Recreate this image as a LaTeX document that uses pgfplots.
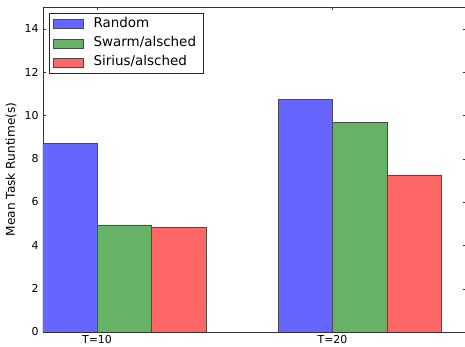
\documentclass[border=0pt]{standalone}
\usepackage{pgfplots}
\pgfplotsset{compat=1.18}
\usepackage{fontspec}
\setmainfont{DejaVu Sans}
\definecolor{cblue}{HTML}{6666FF}
\definecolor{cgreen}{HTML}{66B266}
\definecolor{cred}{HTML}{FF6666}
\begin{document}
\begin{tikzpicture}
\useasboundingbox (-43bp,-15bp) rectangle (422bp,332bp);
\clip (-43bp,-15bp) rectangle (422bp,332bp);
\begin{axis}[
  scale only axis,
  width=423bp, height=325bp,
  xmin=-0.2293, xmax=1.5669,
  ymin=0, ymax=15,
  xtick={0,1}, xticklabels={T=10,T=20},
  ytick={0,2,4,6,8,10,12,14},
  /pgf/number format/assume math mode=true,
  yticklabel style={font=\fontsize{11}{13}\selectfont, xshift=-1bp},
  xticklabel style={font=\fontsize{11}{13}\selectfont},
  ylabel={Mean Task Runtime(s)},
  ylabel style={font=\fontsize{12.2}{15}\selectfont, at={(axis description cs:-0.0757,0.5)}, anchor=center},
  axis line style={black!80},
  major tick length=3bp,
  tick style={black!80},
  legend style={at={(0.0142,0.9815)}, anchor=north west, draw=black!85,
    font=\fontsize{13.5}{16}\selectfont, inner xsep=4bp, inner ysep=4bp,
    nodes={inner sep=0pt, text height=10bp, text depth=3.5bp},
    row sep=5.8bp,
    /tikz/every odd column/.append style={column sep=10bp}},
  legend image code/.code={\draw[#1] (0bp,-4.5bp) rectangle (30bp,4.5bp);},
  legend cell align=left,
]
\addplot[ybar, bar width=0.2314, bar shift=0pt, fill=cblue, draw=black!70] coordinates {(-0.1157,8.72) (0.8843,10.74)};
\addlegendentry{Random}
\addplot[ybar, bar width=0.2314, bar shift=0pt, fill=cgreen, draw=black!70] coordinates {(0.1157,4.94) (1.1157,9.67)};
\addlegendentry{Swarm/alsched}
\addplot[ybar, bar width=0.2314, bar shift=0pt, fill=cred, draw=black!70] coordinates {(0.3471,4.82) (1.3471,7.25)};
\addlegendentry{Sirius/alsched\hspace*{12bp}}
\end{axis}
\end{tikzpicture}
\end{document}
